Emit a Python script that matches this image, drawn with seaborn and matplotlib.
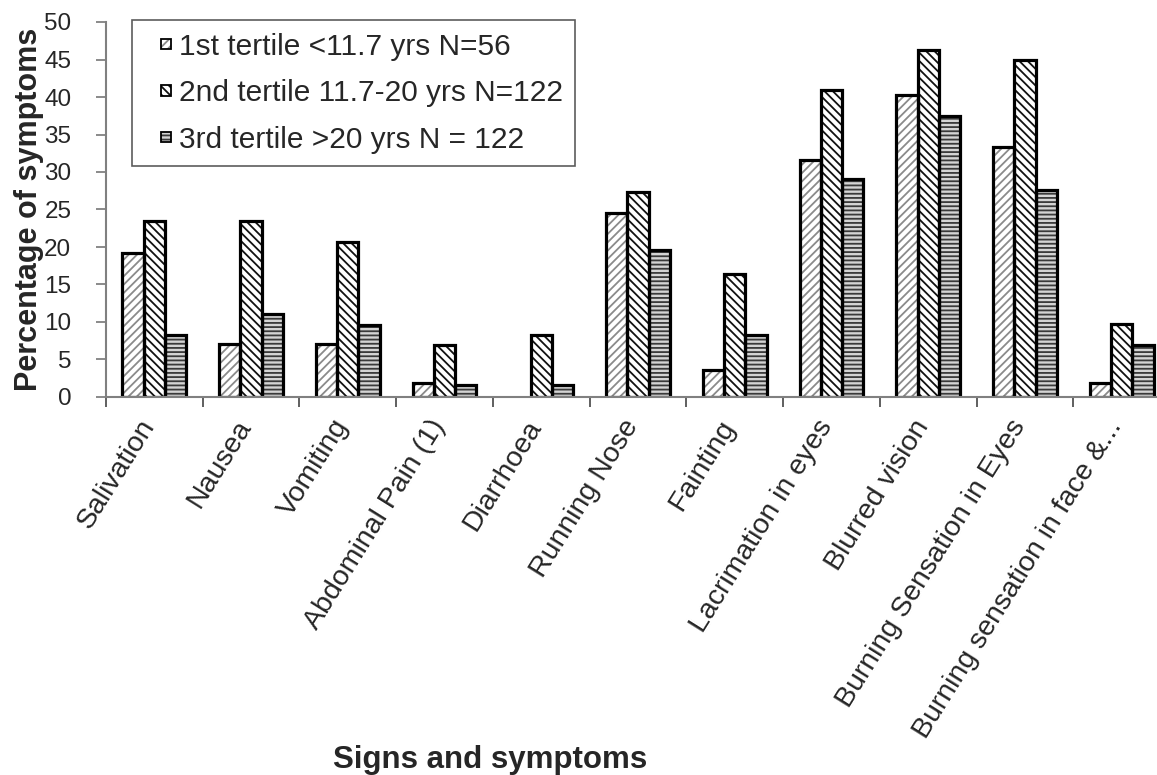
import matplotlib
matplotlib.use('Agg')
import numpy as np
import pandas as pd
import matplotlib.pyplot as plt
import seaborn as sns
from matplotlib.patches import Patch, Rectangle
from matplotlib.legend_handler import HandlerBase
from matplotlib.transforms import ScaledTranslation

symptoms = ['Salivation', 'Nausea', 'Vomiting', 'Abdominal Pain (1)', 'Diarrhoea',
            'Running Nose', 'Fainting', 'Lacrimation in eyes', 'Blurred vision',
            'Burning Sensation in Eyes', 'Burning sensation in face &...']
tertiles = ['1st tertile <11.7 yrs N=56',
            '2nd tertile 11.7-20 yrs N=122',
            '3rd tertile >20 yrs N = 122']
first = [19.2, 7.1, 7.1, 1.8, 0.0, 24.5, 3.6, 31.6, 40.3, 33.3, 1.8]
second = [23.5, 23.5, 20.7, 6.9, 8.2, 27.3, 16.4, 41.0, 46.3, 45.0, 9.7]
third = [8.2, 11.1, 9.6, 1.6, 1.6, 19.6, 8.2, 29.0, 37.5, 27.6, 6.9]

df = pd.DataFrame({
    'symptom': symptoms * 3,
    'group': [t for t in tertiles for _ in symptoms],
    'pct': first + second + third,
})


class SmallBox(HandlerBase):
    # small hatched square at the right end of the handle area, black outline on top
    def create_artists(self, legend, orig, xdescent, ydescent, width, height,
                       fontsize, trans):
        s = 7.5
        x0 = width - s - xdescent
        y0 = (height - s) / 2 - ydescent
        fill = Rectangle((x0, y0), s, s, facecolor=orig.get_facecolor(),
                         edgecolor=orig.get_edgecolor(), hatch=orig.get_hatch(),
                         lw=0, transform=trans)
        edge = Rectangle((x0, y0), s, s, fill=False, edgecolor='black', lw=1.3,
                         transform=trans)
        return [fill, edge]


sns.set_style('white')
plt.rcParams['font.family'] = ['Liberation Sans', 'DejaVu Sans']
plt.rcParams['hatch.linewidth'] = 1.3

fig, ax = plt.subplots(figsize=(11.57, 7.75), dpi=100)
# the last category runs past the right edge of the picture, as in the original
fig.subplots_adjust(left=106 / 1157, right=1170 / 1157, top=1 - 22 / 775, bottom=1 - 397 / 775)

sns.barplot(data=df, x='symptom', y='pct', hue='group', order=symptoms,
            hue_order=tertiles, width=0.66, gap=0, palette=['white'] * 3,
            saturation=1, legend=False, ax=ax)

hatches = ['////', '\\\\\\\\', '----']
hcolors = ['#8a8a8a', '#111111', '#3a3a3a']
faces = ['white', 'white', '#d4d4d4']
for cont, h, c, f in zip(ax.containers, hatches, hcolors, faces):
    for p in cont:
        p.set_facecolor(f)
        p.set_hatch(h)
        p.set_edgecolor(c)
        p.set_linewidth(0)
        if p.get_height() > 0:
            ax.add_patch(Rectangle(p.get_xy(), p.get_width(), p.get_height(),
                                   fill=False, ec='black', lw=2.3,
                                   zorder=p.get_zorder() + 0.1))

handles = [Patch(facecolor=f, edgecolor=c, hatch=h)
           for h, c, f in zip(hatches, hcolors, faces)]
leg = ax.legend(handles, tertiles, loc='upper left', bbox_to_anchor=(26 / 1064, 1.005),
                borderaxespad=0, fontsize=21.5, frameon=True, fancybox=False,
                edgecolor='#333333', handlelength=0.9, handleheight=0.45,
                handletextpad=0.25, labelspacing=0.62, borderpad=0.42,
                handler_map={Patch: SmallBox()})
leg.get_frame().set_linewidth(1.2)

ax.set_ylim(0, 50)
ax.set_yticks(np.arange(0, 51, 5))
ax.set_xlim(-0.5, len(symptoms) - 0.5)
ax.set_xticks(np.arange(-0.5, len(symptoms), 1), minor=True)
ax.tick_params(axis='x', which='major', length=0, pad=13, labelsize=20.5)
ax.tick_params(axis='x', which='minor', length=7, width=1.2, color='#444444',
               direction='out', bottom=True)
ax.tick_params(axis='y', length=7, width=1.2, color='#777777', direction='out',
               left=True, labelsize=17.5, pad=18)
ax.set_xticklabels(symptoms, rotation=58, ha='right', rotation_mode='anchor')
shift = ScaledTranslation(-0.16, 0, fig.dpi_scale_trans)
for lab in ax.get_xticklabels():
    lab.set_transform(lab.get_transform() + shift)

for side in ['top', 'right']:
    ax.spines[side].set_visible(False)
for side in ['left', 'bottom']:
    ax.spines[side].set_color('#808080')
    ax.spines[side].set_linewidth(1.5)

ax.set_xlabel('')
ax.set_ylabel('Percentage of symptoms', fontsize=22, fontweight='bold')
ax.yaxis.set_label_coords(-62 / 1064, 0.5)
fig.text(490 / 1157, 1 - 760 / 775, 'Signs and symptoms', ha='center', va='center',
         fontsize=22.5, fontweight='bold')

fig.savefig('out.png', dpi=100)
